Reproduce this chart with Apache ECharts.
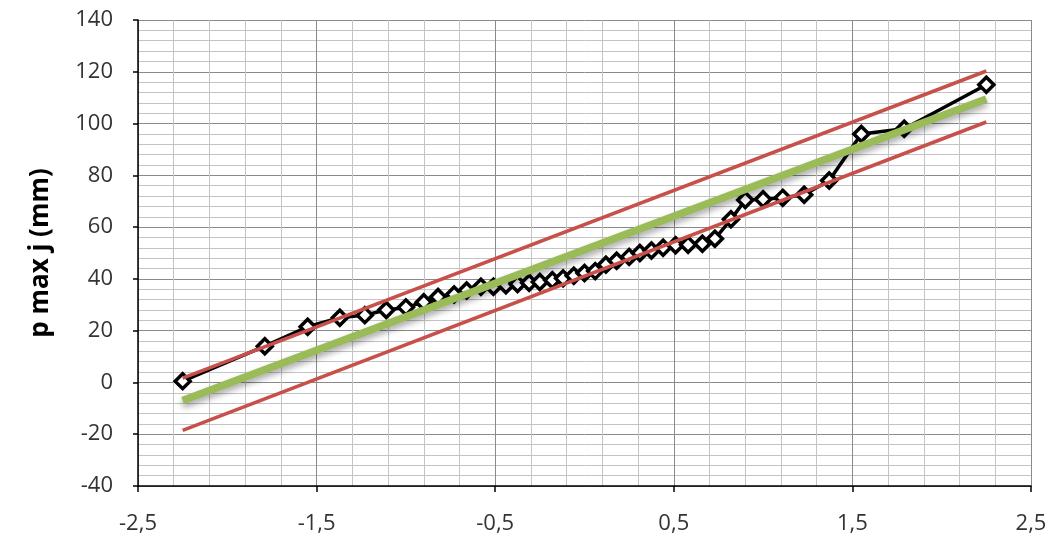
<!DOCTYPE html>
<html>
<head>
<meta charset="utf-8">
<script src="https://cdn.jsdelivr.net/npm/echarts@6/dist/echarts.min.js"></script>
<style>
html,body{margin:0;padding:0;background:#fff;}
#chart{width:1051px;height:544px;}
</style>
</head>
<body>
<div id="chart"></div>
<script>
// Normal quantiles (x)
var quantiles = [-2.25,-1.79,-1.55,-1.37,-1.23,-1.11,-1.00,-0.90,-0.82,-0.73,-0.66,-0.58,-0.51,-0.44,-0.375,-0.31,-0.25,-0.18,-0.12,-0.06,0.00,
                 0.06,0.12,0.18,0.25,0.31,0.375,0.44,0.51,0.58,0.66,0.73,0.82,0.90,1.00,1.11,1.23,1.37,1.55,1.79,2.25];
// Observed p max j (mm), sorted
var observed = [0.5,14,21.5,25,26,28,29,31,33,34,35.5,37,37,37.5,38,38.5,38.8,39.5,40.2,41.2,42.3,
                43,45.5,47,48.5,50,51,52,53,53.2,53.6,55.5,63,70.5,70.8,71.3,72.5,78,96,98,115];
// Fitted line and band end points
var fitX = [-2.25, 2.25];
var fitY = [-7, 109.5];
var upperY = [1.7, 120.3];
var lowerY = [-18.5, 100.6];
var xTicks = {min:-2.5, max:2.5, step:1};
var yTicks = {min:-40, max:140, step:20};

function pairs(xs, ys){ return xs.map(function(x,i){ return [x, ys[i]]; }); }

var chart = echarts.init(document.getElementById('chart'), null, {renderer:'canvas'});
var labelFont = '"Open Sans", "Liberation Sans", sans-serif';
chart.setOption({
  animation:false,
  backgroundColor:'#fff',
  grid:{left:138, right:20, top:20, bottom:58, containLabel:false},
  xAxis:{
    type:'value', min:xTicks.min, max:xTicks.max, interval:xTicks.step,
    axisLine:{show:true, onZero:false, lineStyle:{color:'#000', width:1.5}},
    axisTick:{show:true, length:6, lineStyle:{color:'#000', width:1.5}},
    axisLabel:{margin:27, color:'#333', fontSize:22, fontFamily:labelFont,
      formatter:function(v){ return String(v).replace('.', ','); }},
    splitLine:{show:true, lineStyle:{color:'#8a8a8a', width:1}},
    minorTick:{show:false, splitNumber:5},
    minorSplitLine:{show:true, lineStyle:{color:'#c4c4c4', width:1}}
  },
  yAxis:{
    type:'value', min:yTicks.min, max:yTicks.max, interval:yTicks.step,
    name:'p max j (mm)', nameLocation:'middle', nameGap:84, nameRotate:90,
    nameTextStyle:{fontSize:26, fontWeight:'bold', color:'#000', fontFamily:labelFont},
    axisLine:{show:true, onZero:false, lineStyle:{color:'#000', width:1.5}},
    axisTick:{show:true, length:5, lineStyle:{color:'#000', width:1.5}},
    axisLabel:{margin:25, color:'#333', fontSize:22, fontFamily:labelFont},
    splitLine:{show:true, lineStyle:{color:'#8a8a8a', width:1}},
    minorTick:{show:false, splitNumber:5},
    minorSplitLine:{show:true, lineStyle:{color:'#c4c4c4', width:1}}
  },
  series:[
    {
      type:'line', data:pairs(quantiles, observed), z:2,
      symbol:'diamond', symbolSize:15,
      itemStyle:{color:'#fff', borderColor:'#000', borderWidth:3.5},
      lineStyle:{color:'#000', width:3.5}
    },
    {
      type:'line', data:pairs(fitX, fitY), z:3, symbol:'none',
      lineStyle:{color:'#9BBB59', width:7.5, shadowColor:'rgba(0,0,0,0.35)', shadowBlur:6, shadowOffsetY:4, cap:'butt'}
    },
    {
      type:'line', data:pairs(fitX, upperY), z:4, symbol:'none',
      lineStyle:{color:'#C8504B', width:3.5}
    },
    {
      type:'line', data:pairs(fitX, lowerY), z:4, symbol:'none',
      lineStyle:{color:'#C8504B', width:3.5}
    }
  ]
});
</script>
</body>
</html>
